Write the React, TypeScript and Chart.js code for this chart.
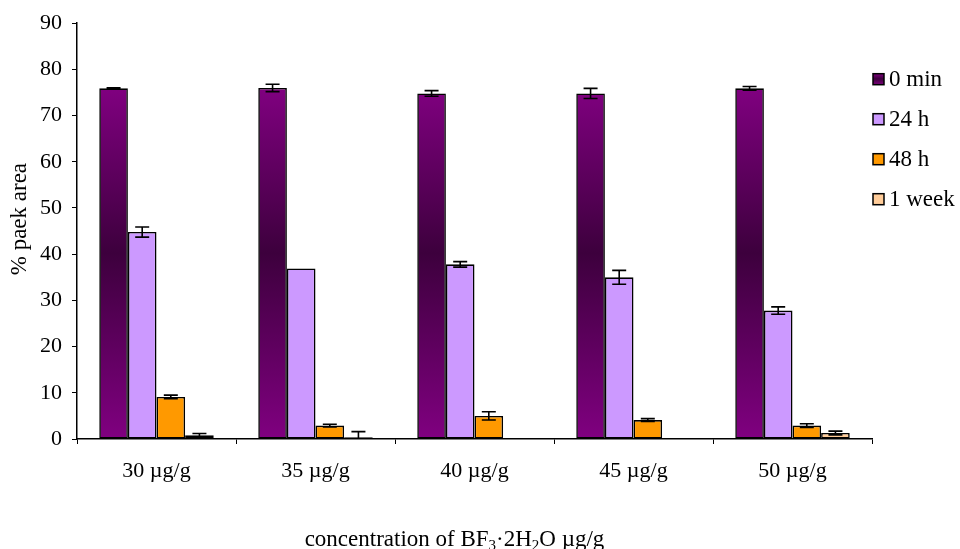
import React, { useEffect, useRef } from 'react';
import { Chart, registerables } from 'chart.js';

Chart.register(...registerables);

const categories = ['30 µg/g', '35 µg/g', '40 µg/g', '45 µg/g', '50 µg/g'];
const seriesNames = ['0 min', '24 h', '48 h', '1 week'];
const values0min = [75.9, 76.0, 74.8, 74.8, 75.9];
const values24h = [44.8, 36.9, 37.8, 35.0, 27.8];
const values48h = [9.1, 2.9, 5.0, 4.1, 2.9];
const values1week = [0.8, 0.4, 0.1, 0.1, 1.3];
const err0min = [0.1, 0.8, 0.6, 1.1, 0.4];
const err24h = [1.1, 0, 0.6, 1.5, 0.8];
const err48h = [0.4, 0.3, 0.9, 0.3, 0.4];
const err1week = [0.4, 1.2, 0, 0, 0.4];
const yMin = 0;
const yMax = 90;
const yStep = 10;
const yTitle = '% paek area';
// x-axis title pieces: [text, isSubscript]
const xTitleParts: [string, boolean][] = [
  ['concentration of BF', false],
  ['3', true],
  ['·2H', false],
  ['2', true],
  ['O µg/g', false],
];

const seriesValues = [values0min, values24h, values48h, values1week];
const seriesErrors = [err0min, err24h, err48h, err1week];
const seriesColors = ['#800080', '#CC99FF', '#FF9900', '#FFCC99'];

const FONT = '"Liberation Serif", "Times New Roman", serif';

function purpleGradient(ctx: CanvasRenderingContext2D, top: number, bottom: number) {
  const g = ctx.createLinearGradient(0, top, 0, bottom);
  g.addColorStop(0, '#800080');
  g.addColorStop(0.47, '#3d003d');
  g.addColorStop(1, '#800080');
  return g;
}

const errorBarPlugin = {
  id: 'errorBars',
  afterDatasetsDraw(chart: any) {
    const { ctx, chartArea, scales } = chart;
    const y = scales.y;
    ctx.save();
    ctx.beginPath();
    ctx.rect(chartArea.left, chartArea.top - 10, chartArea.right - chartArea.left, chartArea.bottom - chartArea.top + 10);
    ctx.clip();
    ctx.strokeStyle = '#000';
    ctx.lineWidth = 1.6;
    chart.data.datasets.forEach((ds: any, d: number) => {
      const meta = chart.getDatasetMeta(d);
      meta.data.forEach((bar: any, i: number) => {
        const e = seriesErrors[d][i];
        if (!e) return;
        const v = ds.data[i];
        const yt = y.getPixelForValue(v + e);
        const yb = y.getPixelForValue(v - e);
        const half = 7;
        ctx.beginPath();
        ctx.moveTo(bar.x, yt);
        ctx.lineTo(bar.x, yb);
        ctx.moveTo(bar.x - half, yt);
        ctx.lineTo(bar.x + half, yt);
        ctx.moveTo(bar.x - half, yb);
        ctx.lineTo(bar.x + half, yb);
        ctx.stroke();
      });
    });
    ctx.restore();
  },
};

const legendPlugin = {
  id: 'sideLegend',
  afterDraw(chart: any) {
    const { ctx, chartArea } = chart;
    ctx.save();
    ctx.font = `23px ${FONT}`;
    ctx.textBaseline = 'middle';
    ctx.textAlign = 'left';
    seriesNames.forEach((name, i) => {
      const cy = chartArea.top + 56 + i * 40;
      const bx = chartArea.right + 1;
      const size = 11;
      const by = cy - size / 2;
      ctx.fillStyle = i === 0 ? purpleGradient(ctx, by, by + size) : seriesColors[i];
      ctx.fillRect(bx, by, size, size);
      ctx.strokeStyle = '#000';
      ctx.lineWidth = 1.5;
      ctx.strokeRect(bx, by, size, size);
      ctx.fillStyle = '#000';
      ctx.fillText(name, bx + size + 5, cy + 1);
    });
    ctx.restore();
  },
};

const titlesPlugin = {
  id: 'axisTitles',
  afterDraw(chart: any) {
    const { ctx, chartArea, height } = chart;
    ctx.save();
    ctx.fillStyle = '#000';
    // x title with real subscripts
    const mainFont = `23px ${FONT}`;
    const subFont = `15px ${FONT}`;
    let total = 0;
    xTitleParts.forEach(([t, sub]) => {
      ctx.font = sub ? subFont : mainFont;
      total += ctx.measureText(t).width;
    });
    const cx = (chartArea.left + chartArea.right) / 2 - 20;
    let x = cx - total / 2;
    const baseline = height - 3;
    ctx.textAlign = 'left';
    ctx.textBaseline = 'alphabetic';
    xTitleParts.forEach(([t, sub]) => {
      ctx.font = sub ? subFont : mainFont;
      ctx.fillText(t, x, sub ? baseline + 4 : baseline);
      x += ctx.measureText(t).width;
    });
    // y title rotated
    ctx.font = mainFont;
    ctx.translate(20, (chartArea.top + chartArea.bottom) / 2 - 12);
    ctx.rotate(-Math.PI / 2);
    ctx.textAlign = 'center';
    ctx.textBaseline = 'middle';
    ctx.fillText(yTitle, 0, 0);
    ctx.restore();
  },
};

export default function App() {
  const canvasRef = useRef<HTMLCanvasElement | null>(null);

  useEffect(() => {
    if (!canvasRef.current) return;
    const datasets = seriesNames.map((name, d) => ({
      label: name,
      data: seriesValues[d],
      backgroundColor:
        d === 0
          ? (c: any) => {
              const chart = c.chart;
              if (!chart.chartArea || !chart.scales.y) return seriesColors[0];
              const ys = chart.scales.y;
              return purpleGradient(chart.ctx, ys.getPixelForValue(76), ys.getPixelForValue(0));
            }
          : seriesColors[d],
      borderColor: '#000',
      borderWidth: 1.6,
      borderSkipped: false as any,
      categoryPercentage: 0.72,
      barPercentage: 1.0,
    }));

    const chart = new Chart(canvasRef.current, {
      type: 'bar',
      data: { labels: categories, datasets },
      plugins: [errorBarPlugin, legendPlugin, titlesPlugin],
      options: {
        animation: false,
        responsive: true,
        maintainAspectRatio: false,
        layout: { padding: { left: 0, right: 88, top: 22, bottom: 0 } },
        plugins: {
          legend: { display: false },
          tooltip: { enabled: false },
        },
        scales: {
          x: {
            grid: {
              display: true,
              drawOnChartArea: false,
              drawTicks: true,
              tickLength: 5,
              color: '#000',
              lineWidth: 1,
            },
            border: { display: true, color: '#000', width: 1.5 },
            ticks: {
              color: '#000',
              font: { family: FONT, size: 22 },
              padding: 14,
              maxRotation: 0,
            },
            title: { display: false },
            afterFit(scale: any) {
              scale.height = 110;
            },
          },
          y: {
            min: yMin,
            max: yMax,
            grid: {
              display: true,
              drawOnChartArea: false,
              drawTicks: true,
              tickLength: 5,
              color: '#000',
              lineWidth: 1,
            },
            border: { display: true, color: '#000', width: 1.5 },
            ticks: {
              stepSize: yStep,
              color: '#000',
              font: { family: FONT, size: 22 },
              padding: 10,
            },
            title: { display: false },
            afterFit(scale: any) {
              scale.width = 77;
            },
          },
        },
      },
    });
    return () => chart.destroy();
  }, []);

  return (
    <div style={{ position: 'absolute', left: 0, top: 0, width: 960, height: 549, background: '#fff' }}>
      <canvas ref={canvasRef} />
    </div>
  );
}
